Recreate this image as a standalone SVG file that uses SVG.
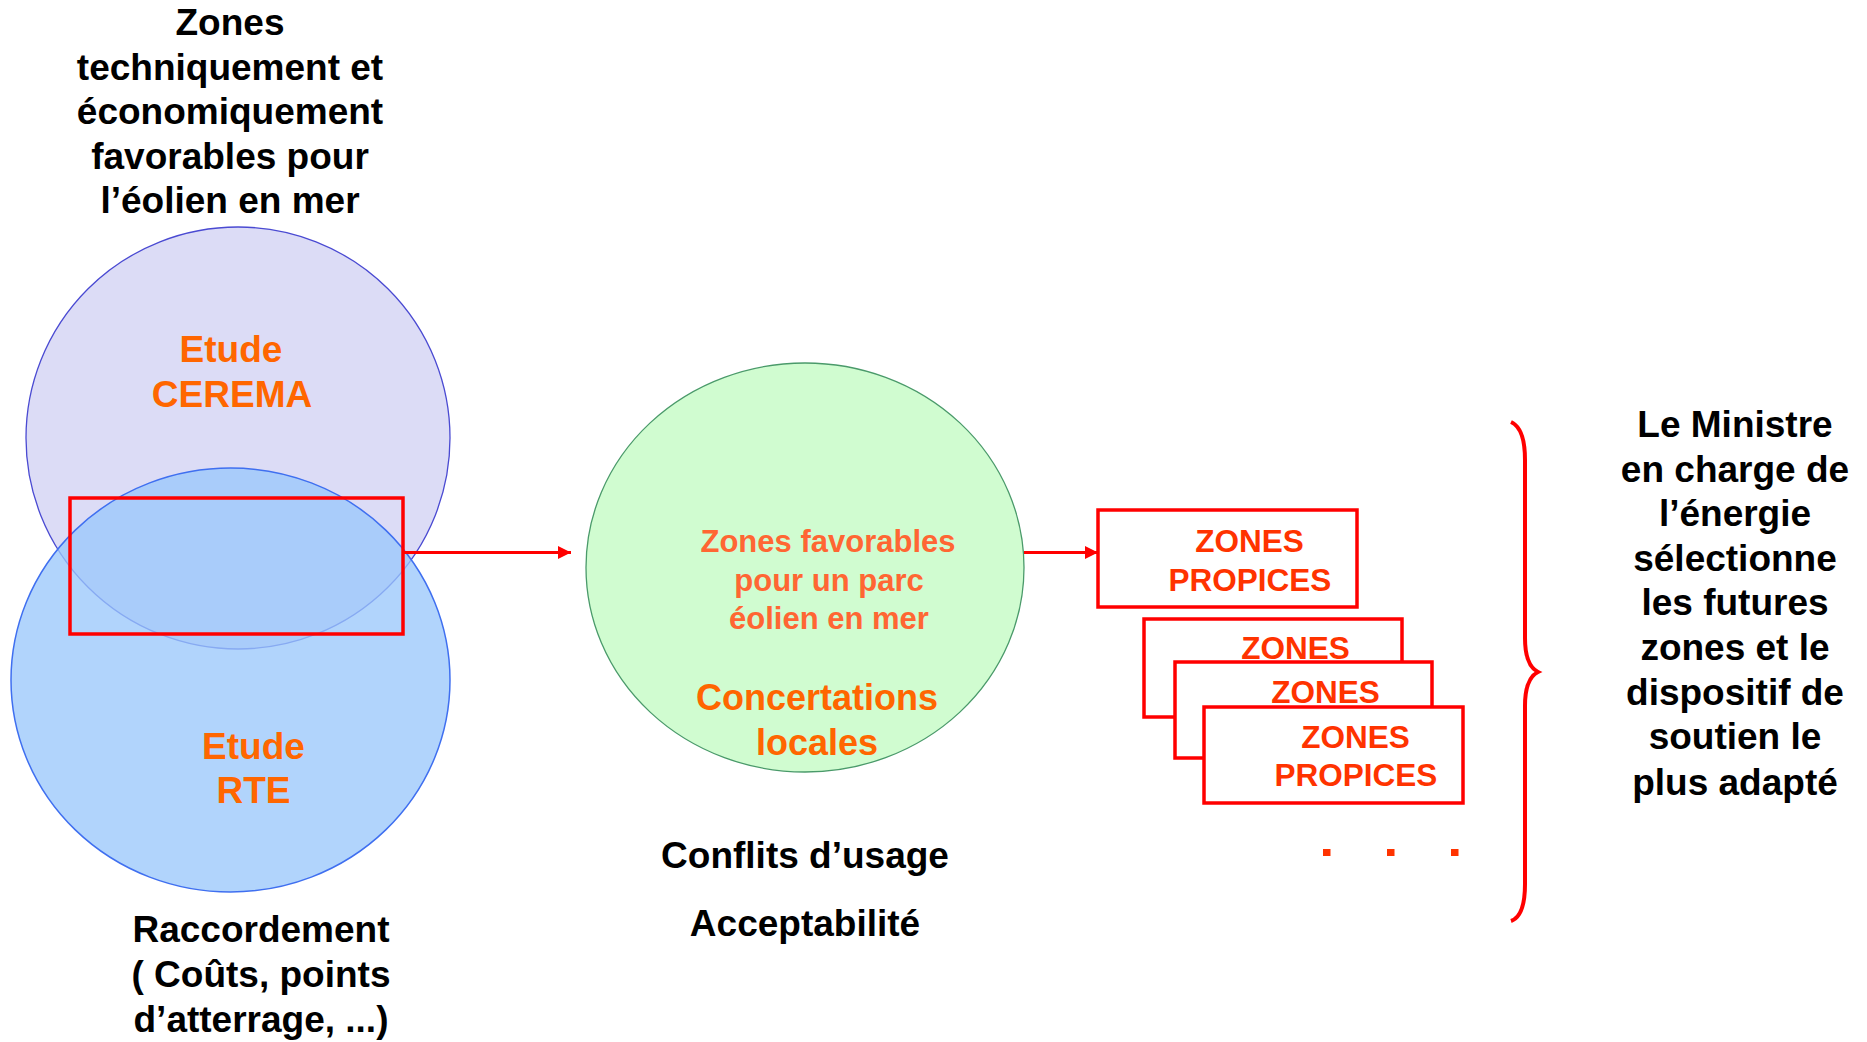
<svg xmlns="http://www.w3.org/2000/svg" width="1867" height="1042" viewBox="0 0 1867 1042">
<defs>
<style>
text{font-family:"Liberation Sans",Arial,sans-serif;font-weight:bold;text-anchor:middle}
.blk{fill:#000;font-size:37px}
.org{fill:#ff6600;font-size:37px}
.org2{fill:#ff6633;font-size:31px}
.conc{fill:#ff6600;font-size:36px}
.zp{fill:#ff3300;font-size:31.5px}
.box{fill:#fff;stroke:#ff0000;stroke-width:3.5}
.conn{stroke:#ff0000;stroke-width:3;fill:none}
</style>
<marker id="arr" viewBox="0 0 10 10" refX="10" refY="5" markerWidth="13" markerHeight="13" markerUnits="userSpaceOnUse" orient="auto">
<path d="M0,0 L10,5 L0,10 Z" fill="#ff0000"/>
</marker>
</defs>
<rect width="1867" height="1042" fill="#fff"/>

<g id="title">
<text class="blk" x="230" y="35">Zones</text>
<text class="blk" x="230" y="80">techniquement et</text>
<text class="blk" x="230" y="124">économiquement</text>
<text class="blk" x="230" y="169">favorables pour</text>
<text class="blk" x="230" y="213">l’éolien en mer</text>
</g>

<g id="cerema">
<ellipse cx="238" cy="438" rx="212" ry="211" fill="#dcdcf6" stroke="#4a4ad2" stroke-width="1.3"/>
<text class="org" x="231" y="362">Etude</text>
<text class="org" x="232" y="407">CEREMA</text>
</g>

<g id="rte">
<ellipse cx="230.5" cy="680" rx="219.5" ry="212" fill="#99c7fb" fill-opacity="0.77" stroke="#3f6ff0" stroke-width="1.5"/>
<text class="org" x="253.5" y="759">Etude</text>
<text class="org" x="253.5" y="803">RTE</text>
</g>

<g id="intersection">
<rect x="70" y="498" width="333" height="136" fill="none" stroke="#ff0000" stroke-width="3.5"/>
</g>

<g id="raccordement">
<text class="blk" x="261" y="942">Raccordement</text>
<text class="blk" x="261" y="987">( Coûts, points</text>
<text class="blk" x="261" y="1032">d’atterrage, ...)</text>
</g>

<g id="favorables">
<ellipse cx="805" cy="567.5" rx="219" ry="204.5" fill="#d0fcd0" stroke="#4a9a6a" stroke-width="1.3"/>
<text class="org2" x="828" y="552">Zones favorables</text>
<text class="org2" x="829" y="591">pour un parc</text>
<text class="org2" x="829" y="629">éolien en mer</text>
<text class="conc" x="817" y="710">Concertations</text>
<text class="conc" x="817" y="755">locales</text>
</g>

<g id="conflits">
<text class="blk" x="805" y="868">Conflits d’usage</text>
<text class="blk" x="805" y="936">Acceptabilité</text>
</g>

<g id="connectors">
<line class="conn" x1="403" y1="552.5" x2="571" y2="552.5" marker-end="url(#arr)"/>
<line class="conn" x1="1024" y1="552.5" x2="1098" y2="552.5" marker-end="url(#arr)"/>
</g>

<g id="zone1">
<rect class="box" x="1098" y="510" width="259" height="97"/>
<text class="zp" x="1249.5" y="552">ZONES</text>
<text class="zp" x="1250" y="591">PROPICES</text>
</g>
<g id="zone2">
<rect class="box" x="1144" y="619" width="258" height="98"/>
<text class="zp" x="1295.5" y="659">ZONES</text>
</g>
<g id="zone3">
<rect class="box" x="1175" y="662" width="257" height="96"/>
<text class="zp" x="1325.5" y="703">ZONES</text>
</g>
<g id="zone4">
<rect class="box" x="1204" y="707" width="259" height="96"/>
<text class="zp" x="1355.5" y="748">ZONES</text>
<text class="zp" x="1356" y="786">PROPICES</text>
</g>

<g id="dots" fill="#ff3300">
<rect x="1323" y="849" width="7.5" height="7"/>
<rect x="1387" y="849" width="7.5" height="7"/>
<rect x="1451" y="849" width="7.5" height="7"/>
</g>

<g id="brace">
<path d="M1511,422 C1520,426 1525,438 1525,460 L1525,638 C1525,657 1530,668 1538,672 C1530,676 1525,687 1525,706 L1525,884 C1525,906 1520,918 1511,921" fill="none" stroke="#ff0000" stroke-width="4"/>
</g>

<g id="ministre">
<text class="blk" x="1735" y="437">Le Ministre</text>
<text class="blk" x="1735" y="482">en charge de</text>
<text class="blk" x="1735" y="526">l’énergie</text>
<text class="blk" x="1735" y="571">sélectionne</text>
<text class="blk" x="1735" y="615">les futures</text>
<text class="blk" x="1735" y="660">zones et le</text>
<text class="blk" x="1735" y="705">dispositif de</text>
<text class="blk" x="1735" y="749">soutien le</text>
<text class="blk" x="1735" y="795">plus adapté</text>
</g>
</svg>
